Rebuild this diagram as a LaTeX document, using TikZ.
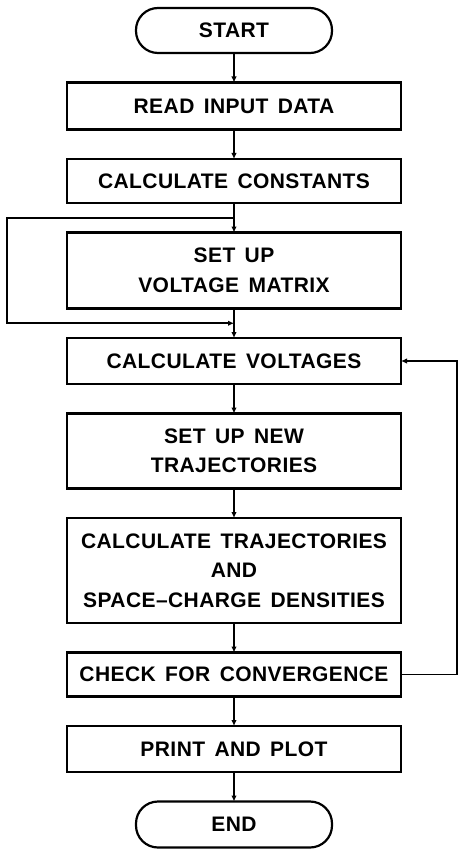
\documentclass[tikz,border=0pt]{standalone}
\usepackage{fontspec}
\setsansfont{Liberation Sans}[LetterSpace=2, WordSpace=1.5]
\usetikzlibrary{arrows.meta, positioning, calc}
\newcommand{\boxfont}{\fontsize{21}{29.5}\selectfont\sffamily\bfseries}

\begin{document}
\begin{tikzpicture}[
    x=1pt, y=1pt,
    node distance=29.5pt,
    box/.style={draw, line width=2.2pt, outer sep=0pt, minimum width=334pt, minimum height=46pt, font=\boxfont, align=center, inner sep=0pt},
    term/.style={draw, line width=2.2pt, outer sep=0pt, rounded corners=22pt, minimum width=196pt, minimum height=45pt, font=\boxfont, inner sep=0pt},
    arrow/.style={-{Latex[length=6pt,width=5.5pt]}, line width=1.8pt},
]
\useasboundingbox (0,0) rectangle (459,-850);

% Terminals and steps
\node[term] (start) at (234,-30.5) {START};
\node[box, below=of start, minimum height=47pt] (read) {READ INPUT DATA};
\node[box, below=of read, minimum height=44pt] (const) {CALCULATE CONSTANTS};
\node[box, below=of const, minimum height=76pt] (matrix) {SET UP\\VOLTAGE MATRIX};
\node[box, below=of matrix] (volt) {CALCULATE VOLTAGES};
\node[box, below=of volt, minimum height=75pt] (traj) {SET UP NEW\\TRAJECTORIES};
\node[box, below=of traj, minimum height=105pt] (calc) {CALCULATE TRAJECTORIES\\AND\\SPACE--CHARGE DENSITIES};
\node[box, below=of calc, minimum height=44pt] (check) {CHECK FOR CONVERGENCE};
\node[box, below=of check] (print) {PRINT AND PLOT};
\node[term, below=of print, minimum height=46pt] (end) {END};

% Junctions of the bypass
\coordinate (jtop) at ($(const.south)!0.5!(matrix.north)$);
\coordinate (jbot) at ($(matrix.south)!0.5!(volt.north)$);

% Arrows
\draw[arrow] (start) -- (read);
\draw[arrow] (read) -- (const);
\draw[arrow] (const) -- (matrix);
\draw[arrow] (matrix) -- (volt);
\draw[arrow] (volt) -- (traj);
\draw[arrow] (traj) -- (calc);
\draw[arrow] (calc) -- (check);
\draw[arrow] (check) -- (print);
\draw[arrow] (print) -- (end);
\draw[arrow] (jtop) -- ++(-227pt,0) |- (jbot);
\draw[arrow] (check.east) -- ++(56pt,0) |- (volt.east);

\end{tikzpicture}
\end{document}
